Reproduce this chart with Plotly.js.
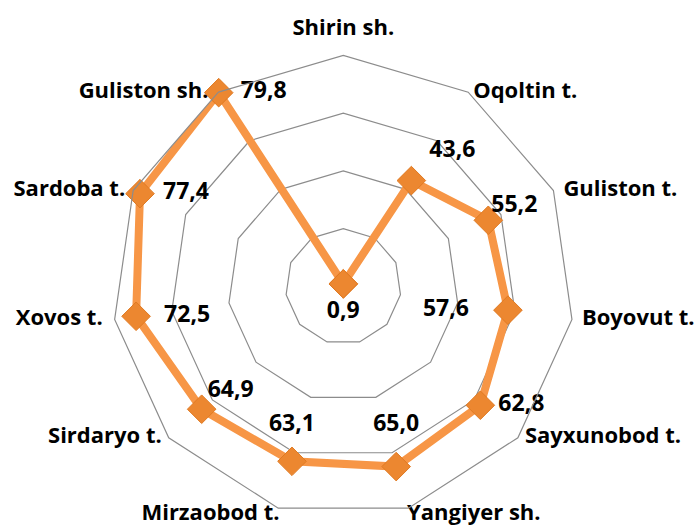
<!DOCTYPE html>
<html>
<head>
<meta charset="utf-8">
<script src="https://cdn.plot.ly/plotly-3.0.1.min.js"></script>
<style>html,body{margin:0;padding:0;background:#fff;}#chart{width:697px;height:529px;}</style>
</head>
<body>
<div id="chart"></div>
<script>
const categories = ["Shirin sh.", "Oqoltin t.", "Guliston t.", "Boyovut t.", "Sayxunobod t.", "Yangiyer sh.", "Mirzaobod t.", "Sirdaryo t.", "Xovos t.", "Sardoba t.", "Guliston sh."];
const values = [0.9, 43.6, 55.2, 57.6, 62.8, 65.0, 63.1, 64.9, 72.5, 77.4, 79.8];
const axisMax = 80;

// label placement (style only)
const labelPositions = ["bottom center", "top right", "top right", "middle left", "middle right", "top center", "top center", "top right", "middle right", "middle right", "middle right"];
const labelGaps = [17, 18, 3, 39, 18, 30, 25, 6, 28, 23, 22];
const categoryPositions = ["top center", "middle right", "middle right", "middle right", "middle right", "bottom right", "bottom left", "middle left", "middle left", "middle left", "middle left"];
const categoryGaps = [15, 5, 10, 10, 7, 0, 0, 7, 12, 8, 10];
const categoryAnchorLift = [0, 0, 0, 0, 0, 1.6, 1.6, 0, 0, 0, 0];

const fmt = v => v.toFixed(1).replace(".", ",");
const gapToSize = g => Math.max(0, (g - 1) * 1.6);
const FONT = "'Open Sans', sans-serif";

const lineTrace = {
  type: "scatterpolar",
  r: values.concat([values[0]]),
  theta: categories.concat([categories[0]]),
  mode: "lines+markers",
  line: {color: "#F79646", width: 8},
  marker: {symbol: "diamond", size: 22, color: "#EC8730", line: {color: "#E07A22", width: 1}},
  cliponaxis: false,
  hoverinfo: "none"
};

const valueLabels = {
  type: "scatterpolar",
  r: values,
  theta: categories,
  mode: "markers+text",
  text: values.map(fmt),
  textposition: labelPositions,
  textfont: {family: FONT, size: 23, color: "#000", weight: "bold"},
  marker: {size: labelGaps.map(gapToSize), opacity: 0},
  cliponaxis: false,
  hoverinfo: "none"
};

const catLabels = {
  type: "scatterpolar",
  r: categories.map((c, i) => axisMax - categoryAnchorLift[i]),
  theta: categories,
  mode: "markers+text",
  text: categories,
  textposition: categoryPositions,
  textfont: {family: FONT, size: 22, color: "#000", weight: "bold"},
  marker: {size: categoryGaps.map(gapToSize), opacity: 0},
  cliponaxis: false,
  hoverinfo: "none"
};

const cx = 343.3, cy = 286.5, R = 231, W = 697, H = 529;
const layout = {
  width: W, height: H,
  margin: {l: 0, r: 0, t: 0, b: 0},
  paper_bgcolor: "#fff",
  showlegend: false,
  font: {family: FONT, size: 20, color: "#000"},
  polar: {
    domain: {x: [(cx - R) / W, (cx + R) / W], y: [(H - cy - R) / H, (H - cy + R) / H]},
    gridshape: "linear",
    bgcolor: "#fff",
    radialaxis: {range: [0, axisMax], dtick: 20, showticklabels: false, ticks: "", showline: false, gridcolor: "#8c8c8c", gridwidth: 1.2},
    angularaxis: {rotation: 90, direction: "clockwise", showgrid: false, showticklabels: false, ticks: "", linecolor: "#8c8c8c", linewidth: 1.2}
  }
};

Plotly.newPlot("chart", [catLabels, lineTrace, valueLabels], layout, {staticPlot: true});
</script>
</body>
</html>
